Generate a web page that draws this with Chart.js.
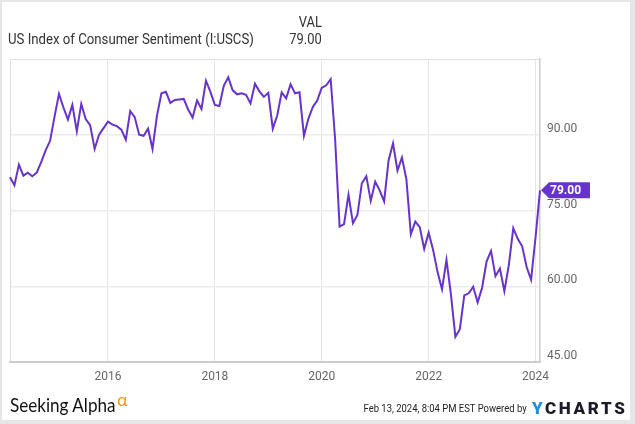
<!DOCTYPE html>
<html lang="en">
<head>
<meta charset="UTF-8">
<title>US Index of Consumer Sentiment</title>
<script src="https://cdn.jsdelivr.net/npm/chart.js"></script>
<style>
  html, body { margin: 0; padding: 0; }
  body { width: 635px; height: 424px; background: #e6e6e6; position: relative; overflow: hidden; font-family: Roboto, sans-serif; }
  .card { position: absolute; left: 2px; top: 2px; width: 628px; height: 418px; background: #fff; }
  #chart { position: absolute; left: 0; top: 0; }
  .txt { position: absolute; white-space: nowrap; color: #333; }
  .cond { transform-origin: left center; }
  .cond-r { transform-origin: right center; }
</style>
</head>
<body>
<div class="card"></div>
<canvas id="chart" width="635" height="424"></canvas>

<div class="txt cond" style="left:8px; top:32px; font-size:15px; line-height:15px; transform:scaleX(0.88);">US Index of Consumer Sentiment (I:USCS)</div>
<div class="txt cond-r" style="right:313px; top:15px; font-size:15px; line-height:15px; transform:scaleX(0.86);">VAL</div>
<div class="txt cond-r" style="right:313px; top:32px; font-size:15px; line-height:15px; transform:scaleX(0.86);">79.00</div>

<div class="txt" style="left:10px; top:395px; font-family:Lato, sans-serif; font-size:19px; line-height:19px; color:#111; transform:scaleX(0.9); transform-origin:left center;">Seeking Alpha</div>
<div class="txt" style="left:117px; top:390px; font-family:Lato, sans-serif; font-size:18px; line-height:18px; color:#f7941d;">α</div>
<div class="txt cond-r" style="right:108px; top:403px; font-size:11px; line-height:11px; color:#222; transform:scaleX(0.86);">Feb 13, 2024, 8:04 PM EST Powered by</div>
<div class="txt" style="left:532px; top:400px; font-size:17px; line-height:17px; font-weight:900; letter-spacing:2.6px; color:#1b1b2a;"><span style="color:#1e8fe6;">Y</span>CHARTS</div>

<script>
  // monthly readings, Feb 2014 .. Jan 2024
  const firstYear = 2014;
  const firstMonth = 2;
  const sentiment = [
    81.6, 80.0, 84.1, 81.9, 82.5, 81.8, 82.5, 84.6, 86.9, 88.8, 93.6,
    98.1, 95.4, 93.0, 95.9, 90.7, 96.1, 93.1, 91.9, 87.2, 90.0, 91.3, 92.6,
    92.0, 91.7, 91.0, 89.0, 94.7, 93.5, 90.0, 89.8, 91.2, 87.2, 93.8, 98.2,
    98.5, 96.3, 96.9, 97.0, 97.1, 95.0, 93.4, 96.8, 95.1, 100.7, 98.5, 95.9,
    95.7, 99.7, 101.4, 98.8, 98.0, 98.2, 97.9, 96.2, 100.1, 98.6, 97.5, 98.3,
    91.2, 93.8, 98.4, 97.2, 100.0, 98.2, 98.4, 89.8, 93.2, 95.5, 96.8, 99.3,
    99.8, 101.0, 89.1, 71.8, 72.3, 78.1, 72.5, 74.1, 80.4, 81.8, 76.9, 80.7,
    79.0, 76.8, 84.9, 88.3, 82.9, 85.5, 81.2, 70.3, 72.8, 71.7, 67.4, 70.6,
    67.2, 62.8, 59.4, 65.2, 58.4, 50.0, 51.5, 58.2, 58.6, 59.9, 56.8, 59.7,
    64.9, 67.0, 62.0, 63.5, 59.0, 64.2, 71.5, 69.4, 67.9, 63.8, 61.3, 69.7,
    79.0
  ];
  const xTicks = [2016, 2018, 2020, 2022, 2024];
  const yTicks = [45, 60, 75, 90];
  const yMin = 45;
  const yMax = 105;

  const lineColor = '#6634cc';

  // point i sits at the end of its month
  const points = sentiment.map((v, i) => ({ x: firstYear + (firstMonth + i) / 12, y: v }));
  const xMin = points[0].x;
  const xMax = points[points.length - 1].x;

  const frame = {
    id: 'frame',
    beforeDatasetsDraw(chart) {
      const a = chart.chartArea, ctx = chart.ctx;
      ctx.save();
      ctx.strokeStyle = '#dddddd';
      ctx.lineWidth = 1;
      ctx.beginPath();
      ctx.moveTo(a.left + 0.5, a.bottom);
      ctx.lineTo(a.left + 0.5, a.top + 0.5);
      ctx.lineTo(a.right, a.top + 0.5);
      ctx.stroke();
      ctx.restore();
    }
  };

  const lastBadge = {
    id: 'lastBadge',
    afterDatasetsDraw(chart) {
      const ctx = chart.ctx;
      const last = sentiment[sentiment.length - 1];
      const x = chart.scales.x.getPixelForValue(xMax) + 1;
      const y = chart.scales.y.getPixelForValue(last);
      ctx.save();
      ctx.fillStyle = lineColor;
      ctx.beginPath();
      ctx.moveTo(x, y);
      ctx.lineTo(x + 8, y - 8);
      ctx.lineTo(x + 49, y - 8);
      ctx.lineTo(x + 49, y + 8);
      ctx.lineTo(x + 8, y + 8);
      ctx.closePath();
      ctx.fill();
      ctx.fillStyle = '#ffffff';
      ctx.font = 'bold 12px Roboto';
      ctx.textBaseline = 'middle';
      ctx.textAlign = 'left';
      ctx.fillText(last.toFixed(2), x + 9, y + 0.5);
      ctx.restore();
    }
  };

  new Chart(document.getElementById('chart'), {
    type: 'line',
    data: {
      datasets: [{
        data: points,
        borderColor: lineColor,
        borderWidth: 2,
        pointRadius: 0,
        tension: 0,
        clip: false
      }]
    },
    options: {
      responsive: false,
      animation: false,
      layout: { padding: { left: 10, top: 59, right: 0, bottom: 0 } },
      plugins: { legend: { display: false }, tooltip: { enabled: false } },
      scales: {
        x: {
          type: 'linear',
          min: xMin,
          max: xMax,
          afterBuildTicks: s => { s.ticks = xTicks.map(v => ({ value: v })); },
          afterFit: s => { s.height = 62; },
          grid: { color: '#e6e6e6', drawTicks: false },
          border: { color: '#cccccc', width: 2 },
          ticks: {
            padding: 8,
            color: '#666666',
            font: { family: 'Roboto', size: 12 },
            maxRotation: 0,
            autoSkip: false,
            callback: v => String(v)
          }
        },
        y: {
          position: 'right',
          min: yMin,
          max: yMax,
          afterBuildTicks: s => { s.ticks = yTicks.map(v => ({ value: v })); },
          afterFit: s => { s.width = 95; },
          grid: { color: '#ececec', lineWidth: 1.5, drawTicks: false },
          border: { color: '#cccccc', width: 1.5 },
          ticks: {
            padding: 7,
            labelOffset: -6,
            color: '#666666',
            font: { family: 'Roboto', size: 12 },
            callback: v => v.toFixed(2)
          }
        }
      }
    },
    plugins: [frame, lastBadge]
  });
</script>
</body>
</html>
